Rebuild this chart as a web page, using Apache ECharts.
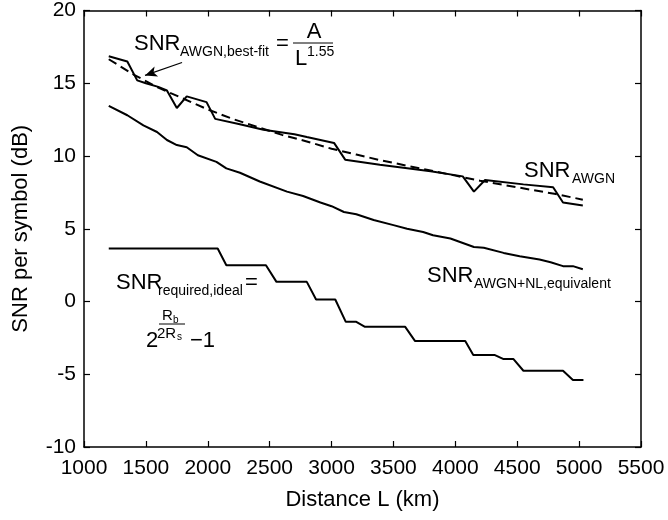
<!DOCTYPE html>
<html><head><meta charset="utf-8">
<script src="https://cdn.jsdelivr.net/npm/echarts@6/dist/echarts.min.js"></script>
<style>html,body{margin:0;padding:0;background:#fff}#c{width:668px;height:520px}</style>
</head><body><div id="c"></div>
<script>
// ---- data ----
const xTicks = [1000,1500,2000,2500,3000,3500,4000,4500,5000,5500];
const yTicks = [-10,-5,0,5,10,15,20];

const awgnL   = [1200,1350,1430,1500,1600,1670,1750,1830,1990,2060,2250,2450,2700,2800,3020,3110,3390,3580,3800,4060,4150,4240,4550,4790,4870,5030];
const awgnSNR = [16.85,16.5,15.2,15.0,14.75,14.5,13.3,14.1,13.7,12.55,12.2,11.8,11.5,11.3,10.9,9.75,9.4,9.2,8.95,8.6,7.55,8.35,8.05,7.85,6.8,6.6];

const fitL   = [1200,1400,1600,1800,2000,2200,2400,2600,2800,3000,3200,3400,3600,3800,4000,4200,4400,4600,4800,5030];
const fitSNR = [16.65,15.6,14.7,13.95,13.2,12.55,12.0,11.45,11.0,10.5,10.1,9.7,9.35,9.0,8.65,8.3,8.0,7.7,7.4,7.0];

const nlL   = [1200,1350,1480,1590,1670,1750,1830,1920,2070,2150,2260,2420,2640,2770,2910,3000,3100,3200,3340,3500,3610,3740,3820,3960,4150,4230,4390,4520,4680,4770,4870,4950,5030];
const nlSNR = [13.45,12.8,12.1,11.65,11.1,10.75,10.6,10.05,9.6,9.15,8.85,8.25,7.55,7.25,6.8,6.55,6.15,6.0,5.6,5.25,5.0,4.78,4.55,4.33,3.75,3.7,3.34,3.11,2.88,2.7,2.43,2.43,2.22];

const idealL   = [1200,2080,2150,2470,2555,2800,2875,3030,3115,3200,3270,3595,3675,4080,4145,4320,4390,4470,4550,4870,4950,5035];
const idealSNR = [3.64,3.64,2.49,2.49,1.35,1.35,0.14,0.14,-1.4,-1.4,-1.74,-1.74,-2.72,-2.72,-3.68,-3.68,-3.96,-3.96,-4.76,-4.76,-5.4,-5.4];

// arrow annotation end points [L, SNR]
const arrowFrom = [1792, 16.43];
const arrowTo   = [1493, 15.54];

const zip = (a,b) => a.map((v,i)=>[v,b[i]]);
const FONT = '"Liberation Sans", Arial, Helvetica, sans-serif';

const chart = echarts.init(document.getElementById('c'), null, {renderer:'canvas'});

function t(text, x, baseline, size, align){
  return {type:'text', x:x, y:baseline + Math.round(size*0.21), z:100,
    style:{text:text, fontSize:size, fontFamily:FONT, fill:'#000', align:align||'left', verticalAlign:'bottom'}};
}
function hl(x1,x2,y){
  return {type:'line', z:100, shape:{x1:x1,y1:y,x2:x2,y2:y}, style:{stroke:'#000', lineWidth:1}};
}

const axisCommon = {
  type:'value', splitLine:{show:false},
  axisLine:{onZero:false, lineStyle:{color:'#000', width:1.5}},
  axisTick:{inside:true, length:6, lineStyle:{color:'#000', width:1.2}},
};

const lineStyle = {color:'#000', width:2};

chart.setOption({
  animation:false,
  backgroundColor:'#fff',
  grid:{left:84, right:27, top:10, bottom:73},
  xAxis:[
    Object.assign({}, axisCommon, {min:1000, max:5500, interval:500, position:'bottom',
      axisLabel:{color:'#000', fontSize:21, fontFamily:FONT, margin:11, formatter:v=>xTicks.includes(v)?String(v):''},
      name:'Distance L (km)', nameLocation:'middle', nameGap:42,
      nameTextStyle:{color:'#000', fontSize:22, fontFamily:FONT}}),
    Object.assign({}, axisCommon, {min:1000, max:5500, interval:500, position:'top', axisLabel:{show:false}})
  ],
  yAxis:[
    Object.assign({}, axisCommon, {min:-10, max:20, interval:5, position:'left',
      axisLabel:{color:'#000', fontSize:21, fontFamily:FONT, margin:8, formatter:v=>yTicks.includes(v)?String(v):''},
      name:'SNR per symbol (dB)', nameLocation:'middle', nameGap:52,
      nameTextStyle:{color:'#000', fontSize:22, fontFamily:FONT}}),
    Object.assign({}, axisCommon, {min:-10, max:20, interval:5, position:'right', axisLabel:{show:false}})
  ],
  series:[
    {type:'line', name:'AWGN', data:zip(awgnL, awgnSNR), showSymbol:false, lineStyle:lineStyle,
      markLine:{silent:true, symbol:['none','arrow'], symbolSize:[8,12],
        lineStyle:{color:'#000', width:1.2, type:'solid'}, label:{show:false},
        data:[[{coord:arrowFrom},{coord:arrowTo}]]}},
    {type:'line', name:'fit', data:zip(fitL, fitSNR), showSymbol:false, smooth:false,
      lineStyle:{color:'#000', width:2, type:[9,5]}},
    {type:'line', name:'NL', data:zip(nlL, nlSNR), showSymbol:false, lineStyle:lineStyle},
    {type:'line', name:'ideal', data:zip(idealL, idealSNR), showSymbol:false, lineStyle:lineStyle}
  ],
  graphic:[
    // SNR_AWGN,best-fit = A / L^1.55
    t('SNR',134,50,22), t('AWGN,best-fit',180,56,14), t('=',276,50,22),
    t('A',314,38,22,'center'), hl(293,333,43), t('L',295,65,22), t('1.55',307,56,14),
    // SNR_AWGN
    t('SNR',524,177,22), t('AWGN',572,183,14),
    // SNR_AWGN+NL,equivalent
    t('SNR',427,282,22), t('AWGN+NL,equivalent',474,288,14),
    // SNR_required,ideal = 2^(Rb/2Rs) - 1
    t('SNR',116,289,22), t('required,ideal',158,295,14), t('=',245,289,22),
    t('R',162,320,15), t('b',173,323,10),
    hl(159,185,324),
    t('2',146,347,22), t('2R',157,338,15), t('s',177,340,10), t('\u22121',190,347,22)
  ]
});
</script></body></html>
